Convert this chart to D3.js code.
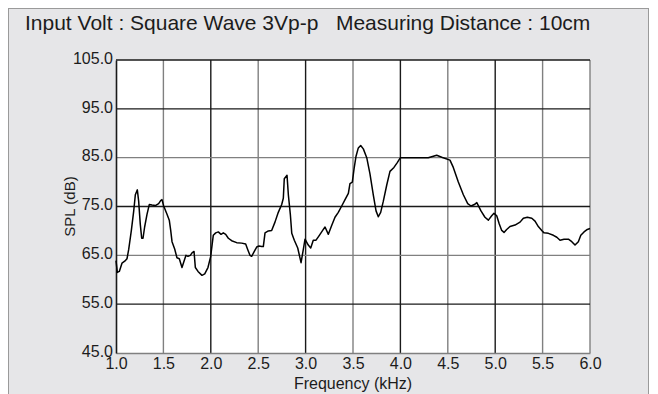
<!DOCTYPE html>
<html><head><meta charset="utf-8">
<script src="https://cdn.jsdelivr.net/npm/d3@7"></script>
<style>html,body{margin:0;padding:0;background:#fff;}svg{display:block;font-family:"Liberation Sans",Arial,sans-serif;}</style>
</head><body><svg id="c" width="658" height="394"></svg>
<script>
const titleText = "Input Volt : Square Wave 3Vp-p   Measuring Distance : 10cm";
const xTicks = [1.0,1.5,2.0,2.5,3.0,3.5,4.0,4.5,5.0,5.5,6.0];
const yTicks = [45,55,65,75,85,95,105];
const freq = [1.000,1.014,1.035,1.063,1.092,1.116,1.134,1.162,1.187,1.204,1.225,1.239,1.256,1.271,1.285,1.302,1.327,1.351,1.380,1.415,1.450,1.471,1.485,1.503,1.538,1.562,1.577,1.591,1.619,1.643,1.668,1.696,1.714,1.738,1.759,1.784,1.802,1.823,1.837,1.865,1.907,1.936,1.970,1.999,2.026,2.052,2.079,2.108,2.132,2.157,2.185,2.220,2.273,2.326,2.368,2.389,2.413,2.431,2.459,2.484,2.508,2.537,2.554,2.572,2.607,2.642,2.677,2.712,2.748,2.765,2.775,2.804,2.818,2.839,2.854,2.881,2.917,2.952,2.976,2.994,3.028,3.054,3.081,3.110,3.145,3.180,3.205,3.240,3.275,3.310,3.345,3.381,3.416,3.451,3.468,3.493,3.511,3.532,3.556,3.581,3.609,3.645,3.679,3.714,3.743,3.767,3.792,3.820,3.856,3.890,3.932,3.967,4.000,4.119,4.294,4.383,4.436,4.523,4.558,4.611,4.664,4.710,4.745,4.780,4.806,4.850,4.892,4.928,4.963,4.987,5.016,5.043,5.069,5.093,5.121,5.156,5.209,5.262,5.297,5.339,5.386,5.420,5.455,5.491,5.515,5.561,5.614,5.650,5.684,5.726,5.772,5.808,5.842,5.877,5.903,5.937,5.972,6.000];
const spl = [63.9,61.5,61.7,63.4,63.8,64.3,66.2,70.1,74.1,77.4,78.4,76.1,71.4,68.5,68.5,70.8,73.4,75.4,75.3,75.2,75.6,76.2,76.4,75.1,73.4,72.2,70.1,67.8,66.3,64.5,64.3,62.5,63.6,65.0,64.8,65.0,65.5,65.8,62.5,61.7,60.9,61.2,62.5,64.8,69.1,69.6,69.8,69.3,69.6,69.3,68.5,68.0,67.6,67.5,67.3,66.2,65.0,64.8,65.8,66.7,66.9,66.8,66.8,69.6,70.0,70.1,71.8,73.8,75.4,76.7,80.7,81.4,77.4,73.4,69.5,68.1,66.5,63.5,66.2,68.3,67.1,66.5,68.1,68.1,69.1,70.1,70.8,69.3,71.1,72.8,73.8,75.1,76.4,77.7,79.7,80.0,82.7,85.3,87.0,87.5,86.8,85.0,81.7,77.4,74.1,72.9,73.8,76.1,79.4,82.2,83.0,84.0,85.0,85.0,85.0,85.5,85.1,84.5,83.0,80.0,77.4,75.6,75.1,75.4,75.8,74.1,72.8,72.2,73.1,73.6,73.1,71.4,70.1,69.7,70.3,70.9,71.2,71.8,72.6,72.8,72.6,72.0,70.9,70.1,69.6,69.5,69.1,68.7,68.1,68.3,68.3,67.8,67.1,67.8,69.1,69.8,70.3,70.5];

const svg = d3.select("#c");
const L = 116, R = 590, T = 60, B = 353;
const x = d3.scaleLinear().domain([1,6]).range([L,R]);
const y = d3.scaleLinear().domain([45,105]).range([B,T]);
const ink = "#1c1c1c";

// panel
svg.append("rect").attr("x",8.5).attr("y",8.5).attr("width",640).attr("height",400)
  .attr("fill","#e6e6e8").attr("stroke","#9a9a9a").attr("stroke-width",1);
svg.append("rect").attr("x",L).attr("y",T).attr("width",R-L).attr("height",B-T).attr("fill","#fff");

svg.append("text").attr("x",25).attr("y",30).attr("font-size",21).attr("fill",ink)
  .style("white-space","pre").attr("xml:space","preserve").text(titleText);

// grid
const dark = "#1a1a1a", grey = "#808080";
svg.append("g").selectAll("line").data(xTicks.slice(1)).join("line")
  .attr("x1",d=>x(d)).attr("x2",d=>x(d)).attr("y1",T).attr("y2",B)
  .attr("stroke",d=> (d===6 ? grey : Math.round(d*2)%2===0 ? dark : grey)).attr("stroke-width",1.4);
svg.append("g").selectAll("line").data(yTicks.slice(1)).join("line")
  .attr("x1",L).attr("x2",R).attr("y1",d=>y(d)).attr("y2",d=>y(d))
  .attr("stroke",d=> (d===105 ? dark : ((d-45)/10)%2===1 ? dark : grey)).attr("stroke-width",1.4);

// axes
const xAxis = d3.axisBottom(x).tickValues(xTicks).tickSize(0).tickPadding(5).tickFormat(d3.format(".1f"));
const gx = svg.append("g").attr("transform",`translate(0,${B})`).call(xAxis);
gx.select(".domain").attr("stroke",grey).attr("stroke-width",1.6);
gx.selectAll("text").attr("font-size",16).attr("fill",ink).attr("font-family","Liberation Sans, Arial, sans-serif");
const yAxis = d3.axisLeft(y).tickValues(yTicks).tickSize(0).tickPadding(3).tickFormat(d3.format(".1f"));
const gy = svg.append("g").attr("transform",`translate(${L},0)`).call(yAxis);
gy.select(".domain").attr("stroke",dark).attr("stroke-width",1.6);
gy.selectAll("text").attr("font-size",16).attr("fill",ink).attr("dy","0.2em").attr("font-family","Liberation Sans, Arial, sans-serif");

svg.append("text").attr("x",(L+R)/2).attr("y",389).attr("text-anchor","middle").attr("font-size",16).attr("fill",ink).text("Frequency (kHz)");
svg.append("text").attr("transform",`translate(75,${(T+B)/2}) rotate(-90)`).attr("text-anchor","middle").attr("font-size",15).attr("fill",ink).text("SPL (dB)");

// curve
const pts = freq.map((f,i)=>[f,spl[i]]);
svg.append("path").datum(pts).attr("fill","none").attr("stroke","#000").attr("stroke-width",1.5)
  .attr("stroke-linejoin","round")
  .attr("d", d3.line().x(d=>x(d[0])).y(d=>y(d[1])));
</script></body></html>
